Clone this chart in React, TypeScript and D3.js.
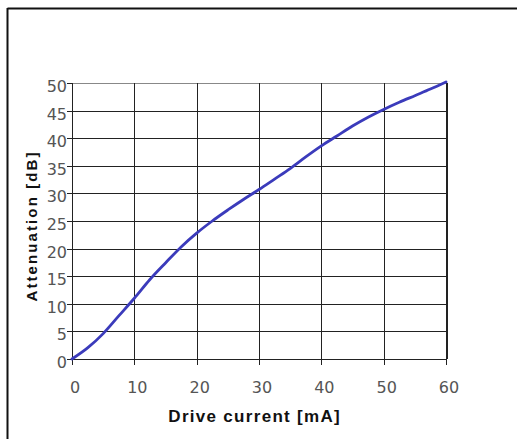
import React, { useEffect, useRef } from 'react';
import * as d3 from 'd3';

// drive current [mA] vs attenuation [dB]
const currentMA = [0, 2.5, 5, 7.5, 10, 12.5, 15, 17.5, 20, 22.5, 25, 27.5, 30, 32.5, 35, 37.5, 40, 42.5, 45, 47.5, 50, 52.5, 55, 57.5, 60];
const attenuationDB = [0, 2, 4.6, 7.8, 11.0, 14.4, 17.4, 20.3, 22.8, 25.0, 27.0, 28.9, 30.7, 32.6, 34.5, 36.6, 38.6, 40.4, 42.2, 43.8, 45.2, 46.5, 47.7, 48.9, 50.2];
const xTicks = [0, 10, 20, 30, 40, 50, 60];
const yTicks = [0, 5, 10, 15, 20, 25, 30, 35, 40, 45, 50];

export default function App() {
  const svgRef = useRef<SVGSVGElement>(null);
  const width = 517;
  const height = 439;

  useEffect(() => {
    if (!svgRef.current) return;
    const svg = d3.select(svgRef.current);
    svg.selectAll('*').remove();

    const margin = { top: 83, right: 71, bottom: 80, left: 72 };
    const x = d3.scaleLinear().domain([0, 60]).range([margin.left, width - margin.right]);
    const y = d3.scaleLinear().domain([0, 50]).range([height - margin.bottom, margin.top]);
    const tickFont = 'DejaVu Sans, Verdana, sans-serif';
    const titleFont = 'Liberation Sans, Arial, sans-serif';

    // outer frame (only top and left edges visible)
    svg.append('line').attr('x1', 7.5).attr('x2', width).attr('y1', 8.5).attr('y2', 8.5)
      .attr('stroke', '#111').attr('stroke-width', 2);
    svg.append('line').attr('x1', 7.5).attr('x2', 7.5).attr('y1', 8).attr('y2', height)
      .attr('stroke', '#111').attr('stroke-width', 2);

    const grid = svg.append('g').attr('shape-rendering', 'crispEdges');

    // horizontal gridlines
    grid.selectAll('line.h').data(yTicks).join('line')
      .attr('x1', x(0)).attr('x2', x(60))
      .attr('y1', d => Math.round(y(d)) + 0.5).attr('y2', d => Math.round(y(d)) + 0.5)
      .attr('stroke', d => (d === 50 ? '#888' : '#222'));

    // vertical gridlines
    grid.selectAll('line.v').data(xTicks).join('line')
      .attr('y1', y(50)).attr('y2', y(0))
      .attr('x1', d => Math.round(x(d)) + 0.5).attr('x2', d => Math.round(x(d)) + 0.5)
      .attr('stroke', '#222')
      .attr('stroke-width', d => (d === 60 ? 2 : 1));

    // y axis ticks + labels
    const yAxis = svg.append('g');
    yAxis.selectAll('line').data(yTicks).join('line')
      .attr('x1', x(0) - 5).attr('x2', x(0))
      .attr('y1', d => Math.round(y(d)) + 0.5).attr('y2', d => Math.round(y(d)) + 0.5)
      .attr('stroke', '#222').attr('shape-rendering', 'crispEdges');
    yAxis.selectAll('text').data(yTicks).join('text')
      .attr('x', x(0) - 5).attr('y', d => y(d) + 9)
      .attr('text-anchor', 'end')
      .attr('font-family', tickFont)
      .attr('font-size', 16).attr('fill', '#555')
      .text(d => d);

    // x axis ticks + labels
    const xAxis = svg.append('g');
    xAxis.selectAll('line').data(xTicks).join('line')
      .attr('x1', d => Math.round(x(d)) + 0.5).attr('x2', d => Math.round(x(d)) + 0.5)
      .attr('y1', y(0)).attr('y2', y(0) + 6)
      .attr('stroke', '#222').attr('shape-rendering', 'crispEdges');
    xAxis.selectAll('text').data(xTicks).join('text')
      .attr('x', d => x(d) + 3).attr('y', y(0) + 34)
      .attr('text-anchor', 'middle')
      .attr('font-family', tickFont)
      .attr('font-size', 16).attr('fill', '#555')
      .text(d => d);

    // axis titles
    svg.append('text')
      .attr('x', 254 + 0.65).attr('y', 421.5)
      .attr('text-anchor', 'middle')
      .attr('font-family', titleFont)
      .attr('font-weight', 'bold').attr('font-size', 17).attr('fill', '#111')
      .attr('letter-spacing', 1.3)
      .text('Drive current [mA]');
    svg.append('text')
      .attr('transform', 'translate(37,226) rotate(-90)')
      .attr('text-anchor', 'middle')
      .attr('font-family', titleFont)
      .attr('font-weight', 'bold').attr('font-size', 15).attr('fill', '#111')
      .attr('letter-spacing', 2.1)
      .text('Attenuation [dB]');

    // curve
    const pts = currentMA.map((c, i) => [c, attenuationDB[i]] as [number, number]);
    const line = d3.line<[number, number]>()
      .x(d => x(d[0]))
      .y(d => y(d[1]))
      .curve(d3.curveMonotoneX);
    svg.append('path')
      .datum(pts)
      .attr('fill', 'none')
      .attr('stroke', '#3b3bbb')
      .attr('stroke-width', 2.8)
      .attr('stroke-linecap', 'round')
      .attr('d', line);
  }, []);

  return (
    <svg
      ref={svgRef}
      width={width}
      height={height}
      style={{ position: 'absolute', left: 0, top: 0, background: '#fff' }}
    />
  );
}
